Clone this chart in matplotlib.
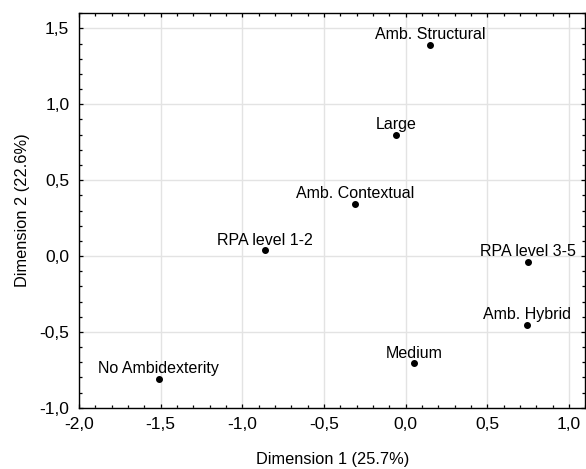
import matplotlib
matplotlib.use("Agg")
import matplotlib.pyplot as plt
from matplotlib.ticker import MultipleLocator, FuncFormatter

labels = ["Amb. Structural", "Large", "Amb. Contextual", "RPA level 1-2",
          "RPA level 3-5", "Amb. Hybrid", "Medium", "No Ambidexterity"]
dim1 = [0.147, -0.058, -0.31, -0.862, 0.749, 0.741, 0.053, -1.513]
dim2 = [1.39, 0.80, 0.342, 0.037, -0.037, -0.456, -0.708, -0.809]

plt.rcParams['font.family'] = ['Liberation Sans', 'DejaVu Sans']

fig = plt.figure(figsize=(5.86, 4.69), dpi=100)
ax = fig.add_axes([0.1348, 0.1307, 0.9991 - 0.1348, 0.9716 - 0.1307])

ax.scatter(dim1, dim2, s=16, color='black', zorder=3)
for x, y, t in zip(dim1, dim2, labels):
    ax.annotate(t, (x, y), xytext=(0, 2), textcoords='offset points',
                ha='center', va='bottom', fontsize=11.5, color='black')

ax.set_xlim(-2.0, 1.1)
ax.set_ylim(-1.0, 1.6)
ax.xaxis.set_major_locator(MultipleLocator(0.5))
ax.xaxis.set_minor_locator(MultipleLocator(0.1))
ax.yaxis.set_major_locator(MultipleLocator(0.5))
ax.yaxis.set_minor_locator(MultipleLocator(0.1))
fmt = FuncFormatter(lambda v, p: f"{v:.1f}".replace('.', ',').replace('-0,0', '0,0'))
ax.xaxis.set_major_formatter(fmt)
ax.yaxis.set_major_formatter(fmt)

ax.grid(True, which='major', color='#e3e3e3', linewidth=1.0, zorder=0)
ax.set_axisbelow(True)
ax.tick_params(which='both', direction='in', top=True, right=True, width=0.9, color='black')
ax.tick_params(which='major', length=3, labelsize=12.5, pad=7)
ax.tick_params(which='minor', length=2.3)
for s in ax.spines.values():
    s.set_color('black')
    s.set_linewidth(1.0)

ax.set_xlabel("Dimension 1 (25.7%)", fontsize=11.8, labelpad=14)
ax.set_ylabel("Dimension 2 (22.6%)", fontsize=11.8, labelpad=7)

fig.savefig("out.png", dpi=100)
